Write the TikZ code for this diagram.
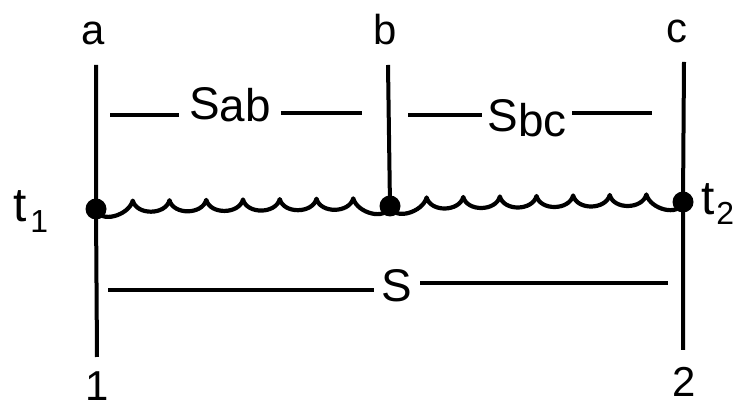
\documentclass[tikz,border=0pt]{standalone}
\usepackage{fontspec}
\setmainfont{Liberation Sans}
\usetikzlibrary{calc}

\begin{document}
\begin{tikzpicture}[x=0.5bp, y=-0.5bp, line width=2bp,
  font=\fontsize{21}{24}\selectfont,
  lbl/.style={inner sep=0pt, anchor=base},
  dist/.style={lbl, font=\fontsize{23}{26}\selectfont},
  dim/.style={line width=1.7bp},
  pt/.style={circle, fill, inner sep=0pt, minimum size=10.5bp},
  wave/.style={line width=2.1bp, line join=round}
]
  \useasboundingbox (0,0) rectangle (745,408);

  % --- points on the path ---
  \node[pt] (pa) at (96,209) {};
  \node[pt] (pb) at (390,206) {};
  \node[pt] (pc) at (683,202) {};

  % --- vertical lines ---
  \coordinate (a-top) at (96,65);   \coordinate (a-bot) at (97,357);
  \coordinate (b-top) at (388,65);
  \coordinate (c-top) at (684,62);  \coordinate (c-bot) at (683,350);
  \draw (a-top) -- (pa.center) -- (a-bot);
  \draw (b-top) -- (pb.center);
  \draw (c-top) -- (pc.center) -- (c-bot);

  % --- labels ---
  \node[lbl] (la) at (93,45)  {a};
  \node[lbl] (lb) at (385,45) {b};
  \node[lbl] (lc) at (677,43) {c};
  \node[lbl] (l1) at (97,401) {1};
  \node[lbl] (l2) at (684,397) {2};
  \node[lbl, anchor=base west, font=\fontsize{24}{26}\selectfont] (t1) at (11,222)
        {t\hspace{2bp}\raisebox{-5.5bp}{\fontsize{16}{16}\selectfont 1}};
  \node[lbl, anchor=base west, font=\fontsize{24}{26}\selectfont] (t2) at (699,215)
        {t\hspace{1bp}\raisebox{-5bp}{\fontsize{16}{16}\selectfont 2}};

  % --- wavy path between the points ---
  \draw[wave] (pa.center)
    foreach \i in {1,...,7} { .. controls +(4,15) and +(-4,15) .. ($(pa)!\i/8!(pb)+(0,-8)$) }
    .. controls +(4,15) and +(-4,15) .. (pb.center);
  \draw[wave] (pb.center)
    foreach \i in {1,...,7} { .. controls +(4,15) and +(-4,15) .. ($(pb)!\i/8!(pc)+(0,-8)$) }
    .. controls +(4,15) and +(-4,15) .. (pc.center);

  % --- distances ---
  \node[dist, inner xsep=4bp] (sab) at (230,120) {S\raisebox{-1bp}{ab}};
  \coordinate (sab-l) at (110,115);  \coordinate (sab-r) at (362,113);
  \draw[dim] (sab-l) -- (sab-l -| sab.west);
  \draw[dim] (sab-r -| sab.east) -- (sab-r);

  \node[dist, inner xsep=2bp] (sbc) at (527,132) {S\raisebox{-2.5bp}{bc}};
  \coordinate (sbc-l) at (408,115);  \coordinate (sbc-r) at (652,113);
  \draw[dim] (sbc-l) -- (sbc-l -| sbc.west);
  \draw[dim] (sbc-r -| sbc.east) -- (sbc-r);

  \node[dist, inner xsep=3bp] (s) at (397,302) {S};
  \coordinate (s-l) at (108,290);  \coordinate (s-r) at (668,283);
  \draw[dim] (s-l) -- (s-l -| s.west);
  \draw[dim] (s-r -| s.east) -- (s-r);
\end{tikzpicture}
\end{document}
